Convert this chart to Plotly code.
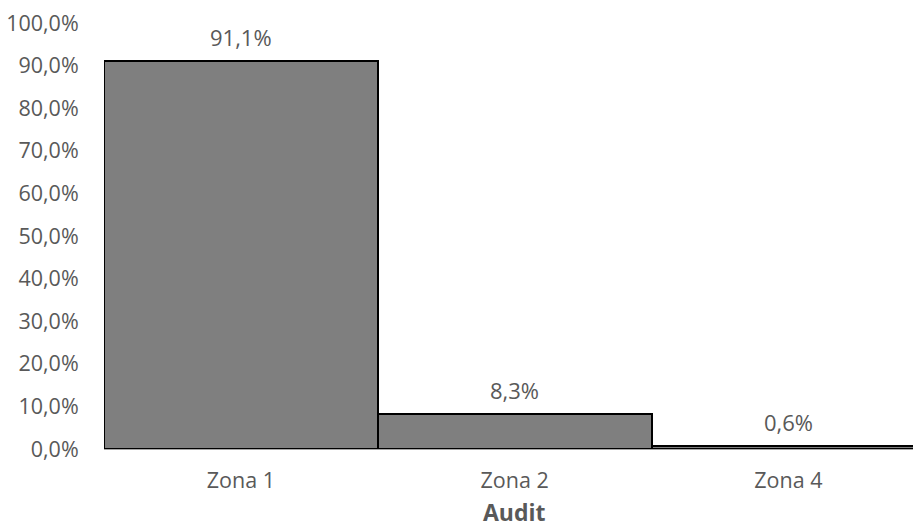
import plotly.graph_objects as go

# Share of audits per zone
zones = ["Zona 1", "Zona 2", "Zona 4"]
shares = [0.911, 0.083, 0.006]
y_ticks = [i / 10 for i in range(11)]

TEXT_GREY = "#595959"
FONT = "Open Sans, sans-serif"

fig = go.Figure(
    go.Bar(
        x=zones,
        y=shares,
        marker=dict(color="#7f7f7f", line=dict(color="#000000", width=2)),
        hoverinfo="skip",
    )
)

# value labels above each bar, placed from the bar values themselves
for zone, share in zip(zones, shares):
    fig.add_annotation(
        x=zone,
        y=share,
        text=f"{share * 100:.1f}%".replace(".", ","),
        showarrow=False,
        yanchor="middle",
        yshift=24,
        font=dict(size=22, color=TEXT_GREY, family=FONT),
    )

# x-axis title, set low near the bottom edge
fig.add_annotation(
    xref="paper",
    yref="paper",
    x=0.508,
    y=-0.148,
    text="<b>Audit</b>",
    showarrow=False,
    xanchor="center",
    yanchor="middle",
    borderpad=0,
    font=dict(size=23, color=TEXT_GREY, family=FONT),
)

fig.update_layout(
    width=913,
    height=531,
    margin=dict(l=104, r=0, t=23, b=82),
    paper_bgcolor="white",
    plot_bgcolor="white",
    separators=",.",
    bargap=0,
    showlegend=False,
    font=dict(family=FONT, color=TEXT_GREY, size=21),
    xaxis=dict(
        range=[-0.5, 2.455],
        automargin=False,
        showgrid=False,
        showline=True,
        linecolor="#a6a6a6",
        linewidth=1,
        ticks="outside",
        ticklen=12,
        tickcolor="rgba(0,0,0,0)",
        tickfont=dict(size=21.5, color=TEXT_GREY),
    ),
    yaxis=dict(
        range=[0, 1],
        automargin=False,
        tickvals=y_ticks,
        tickformat=".1%",
        showgrid=False,
        zeroline=False,
        showline=False,
        ticks="outside",
        ticklen=20,
        tickcolor="rgba(0,0,0,0)",
        tickfont=dict(size=21.5, color=TEXT_GREY),
    ),
)

fig.write_html("out.html")
